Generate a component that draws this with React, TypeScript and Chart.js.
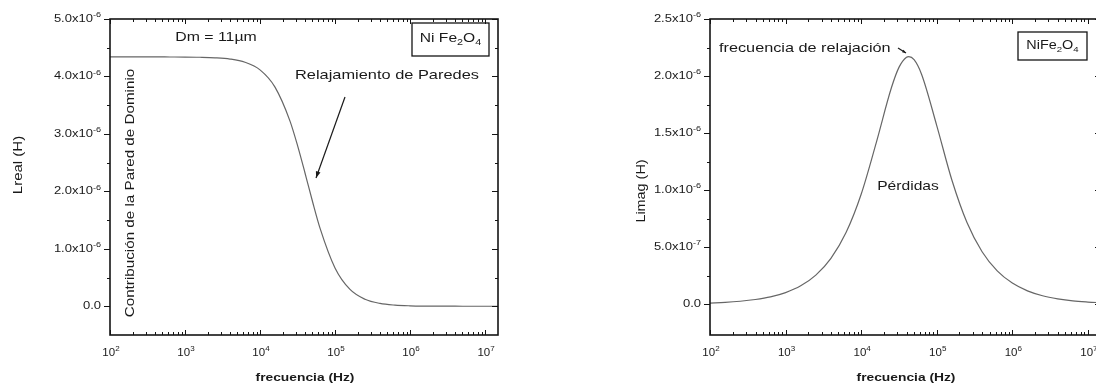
import React, { useEffect, useRef } from 'react';
import { Chart, registerables } from 'chart.js';
Chart.register(...registerables);

// ---- data ----
const frequencyHz = [100, 158.5, 251.2, 398.1, 631, 1000, 1585, 2512, 3981, 6310, 10000, 15850, 25120, 31620, 39810, 42660, 50120, 63100, 100000, 158500, 251200, 398100, 631000, 1000000, 1585000, 2512000, 3981000, 6310000, 10000000, 14900000];
const lRealMicroH = [4.34, 4.34, 4.34, 4.34, 4.339, 4.338, 4.334, 4.325, 4.303, 4.247, 4.114, 3.814, 3.223, 2.801, 2.32, 2.17, 1.824, 1.361, 0.668, 0.293, 0.122, 0.049, 0.02, 0.008, 0.003, 0.001, 0.001, 0.0, 0.0, 0.0];
const lImagMicroH = [0.01, 0.016, 0.026, 0.041, 0.064, 0.102, 0.161, 0.255, 0.402, 0.628, 0.964, 1.417, 1.897, 2.076, 2.165, 2.17, 2.143, 2.014, 1.566, 1.089, 0.716, 0.46, 0.292, 0.185, 0.117, 0.074, 0.047, 0.029, 0.019, 0.013];

const xTickValues = [1e2, 1e3, 1e4, 1e5, 1e6, 1e7];
const xTickLabels = ['10^2', '10^3', '10^4', '10^5', '10^6', '10^7'];
const leftYTickValues = [0, 1e-6, 2e-6, 3e-6, 4e-6, 5e-6];
const leftYTickLabels = ['0.0', '1.0x10^-6', '2.0x10^-6', '3.0x10^-6', '4.0x10^-6', '5.0x10^-6'];
const leftYMinor = [0.5e-6, 1.5e-6, 2.5e-6, 3.5e-6, 4.5e-6];
const rightYTickValues = [0, 5e-7, 1e-6, 1.5e-6, 2e-6, 2.5e-6];
const rightYTickLabels = ['0.0', '5.0x10^-7', '1.0x10^-6', '1.5x10^-6', '2.0x10^-6', '2.5x10^-6'];
const rightYMinor = [2.5e-7, 7.5e-7, 1.25e-6, 1.75e-6, 2.25e-6];

const FONT = '"Liberation Sans", Arial, Helvetica, sans-serif';
const TEXT = '#1a1a1a';
const AXIS = '#141414';
const CURVE = '#666666';

type Seg = { t: string; k: 'n' | 'sup' | 'sub' };
function parseRich(s: string): Seg[] {
  const out: Seg[] = [];
  let buf = '';
  for (let i = 0; i < s.length; i++) {
    const c = s[i];
    if (c === '^') {
      if (buf) out.push({ t: buf, k: 'n' });
      buf = '';
      let j = i + 1;
      let sup = '';
      while (j < s.length && s[j] !== ' ') { sup += s[j]; j++; }
      out.push({ t: sup, k: 'sup' });
      i = j - 1;
    } else if (c === '_') {
      if (buf) out.push({ t: buf, k: 'n' });
      buf = '';
      out.push({ t: s[i + 1], k: 'sub' });
      i++;
    } else buf += c;
  }
  if (buf) out.push({ t: buf, k: 'n' });
  return out;
}

type RichOpts = { size: number; bold?: boolean; stretch?: number; align?: 'left' | 'center' | 'right'; rotate?: boolean };
function drawRich(ctx: CanvasRenderingContext2D, s: string, x: number, y: number, o: RichOpts) {
  const segs = parseRich(s);
  const st = o.stretch ?? 1.25;
  const w = o.bold ? 'bold ' : '';
  const fontFor = (k: string) => `${w}${k === 'n' ? o.size : Math.round(o.size * 0.68)}px ${FONT}`;
  ctx.save();
  ctx.translate(x, y);
  if (o.rotate) ctx.rotate(-Math.PI / 2);
  ctx.scale(st, 1);
  let total = 0;
  const widths = segs.map((sg) => {
    ctx.font = fontFor(sg.k);
    const m = ctx.measureText(sg.t).width;
    total += m;
    return m;
  });
  let cx = o.align === 'left' ? 0 : o.align === 'right' ? -total : -total / 2;
  ctx.fillStyle = TEXT;
  ctx.textBaseline = 'middle';
  ctx.textAlign = 'left';
  segs.forEach((sg, i) => {
    ctx.font = fontFor(sg.k);
    const dy = sg.k === 'sup' ? -o.size * 0.38 : sg.k === 'sub' ? o.size * 0.32 : 0;
    ctx.fillText(sg.t, cx, dy);
    cx += widths[i];
  });
  ctx.restore();
}

function drawArrow(ctx: CanvasRenderingContext2D, x1: number, y1: number, x2: number, y2: number, head: number) {
  ctx.save();
  ctx.strokeStyle = TEXT;
  ctx.fillStyle = TEXT;
  ctx.lineWidth = 1.2;
  ctx.beginPath();
  ctx.moveTo(x1, y1);
  ctx.lineTo(x2, y2);
  ctx.stroke();
  const ang = Math.atan2(y2 - y1, x2 - x1);
  ctx.beginPath();
  ctx.moveTo(x2, y2);
  ctx.lineTo(x2 - head * Math.cos(ang - 0.35), y2 - head * Math.sin(ang - 0.35));
  ctx.lineTo(x2 - head * Math.cos(ang + 0.35), y2 - head * Math.sin(ang + 0.35));
  ctx.closePath();
  ctx.fill();
  ctx.restore();
}

type Ann = { text: string; x: number; y: number } & RichOpts;
type Box = { x: number; y: number; w: number; h: number };
type Arrow = { x1: number; y1: number; x2: number; y2: number; head: number };
type FrameCfg = {
  yTicks: number[];
  yLabels: string[];
  yMinor: number[];
  texts: Ann[];
  boxes: Box[];
  arrows: Arrow[];
};

function makeFramePlugin(cfg: FrameCfg) {
  return {
    id: 'originFrame',
    afterDraw(chart: any) {
      const { ctx, chartArea: a, scales } = chart;
      const xs = scales.x;
      const ys = scales.y;
      ctx.save();
      ctx.strokeStyle = AXIS;
      ctx.lineWidth = 1;
      ctx.beginPath();
      // x ticks (inward on bottom and top)
      for (let d = 2; d <= 7; d++) {
        for (let m = 1; m <= 9; m++) {
          const v = m * Math.pow(10, d);
          if (v > xs.max) break;
          const px = Math.round(xs.getPixelForValue(v)) + 0.5;
          const len = m === 1 ? 5 : 3;
          ctx.moveTo(px, a.bottom);
          ctx.lineTo(px, a.bottom - len);
          ctx.moveTo(px, a.top);
          ctx.lineTo(px, a.top + len);
        }
      }
      // y ticks: left outward, right inward
      cfg.yTicks.forEach((v) => {
        const py = Math.round(ys.getPixelForValue(v)) + 0.5;
        ctx.moveTo(a.left, py);
        ctx.lineTo(a.left - 6, py);
        ctx.moveTo(a.right, py);
        ctx.lineTo(a.right - 6, py);
      });
      cfg.yMinor.forEach((v) => {
        const py = Math.round(ys.getPixelForValue(v)) + 0.5;
        ctx.moveTo(a.left, py);
        ctx.lineTo(a.left - 3, py);
        ctx.moveTo(a.right, py);
        ctx.lineTo(a.right - 3, py);
      });
      ctx.stroke();
      ctx.lineWidth = 1.6;
      ctx.strokeRect(a.left, a.top, a.right - a.left, a.bottom - a.top);
      ctx.restore();

      // tick labels
      xTickValues.forEach((v, i) => {
        const px = xs.getPixelForValue(v);
        drawRich(ctx, xTickLabels[i], px + 1, a.bottom + 18, { size: 10, stretch: 1.15, align: 'center' });
      });
      cfg.yTicks.forEach((v, i) => {
        const py = ys.getPixelForValue(v);
        drawRich(ctx, cfg.yLabels[i], a.left - 9, py, { size: 10, stretch: 1.3, align: 'right' });
      });

      // annotations
      ctx.save();
      ctx.strokeStyle = AXIS;
      ctx.lineWidth = 1.3;
      cfg.boxes.forEach((b) => ctx.strokeRect(b.x, b.y, b.w, b.h));
      ctx.restore();
      cfg.arrows.forEach((ar) => drawArrow(ctx, ar.x1, ar.y1, ar.x2, ar.y2, ar.head));
      cfg.texts.forEach((t) => drawRich(ctx, t.text, t.x, t.y, t));
    },
  };
}

function makeConfig(values: number[], yMin: number, yMax: number, padRight: number, yWidth: number, cfg: FrameCfg): any {
  return {
    type: 'line',
    data: {
      datasets: [
        {
          data: frequencyHz.map((f, i) => ({ x: f, y: values[i] * 1e-6 })),
          borderColor: CURVE,
          borderWidth: 1.2,
          pointRadius: 0,
          cubicInterpolationMode: 'monotone',
          fill: false,
        },
      ],
    },
    options: {
      responsive: false,
      animation: false,
      events: [],
      layout: { padding: { top: 19, right: padRight, left: 0, bottom: 0 } },
      plugins: { legend: { display: false }, tooltip: { enabled: false }, title: { display: false } },
      scales: {
        x: {
          type: 'logarithmic',
          min: 100,
          max: 1.49e7,
          ticks: { display: false },
          grid: { display: false, drawTicks: false },
          border: { display: false },
          afterFit: (s: any) => { s.height = 51; },
        },
        y: {
          type: 'linear',
          min: yMin,
          max: yMax,
          ticks: { display: false },
          grid: { display: false, drawTicks: false },
          border: { display: false },
          afterFit: (s: any) => { s.width = yWidth; },
        },
      },
    },
    plugins: [makeFramePlugin(cfg)],
  };
}

const leftCfg: FrameCfg = {
  yTicks: leftYTickValues,
  yLabels: leftYTickLabels,
  yMinor: leftYMinor,
  boxes: [{ x: 412, y: 23, w: 77, h: 33 }],
  arrows: [{ x1: 345, y1: 97, x2: 316, y2: 178, head: 7 }],
  texts: [
    { text: 'Dm = 11\u00b5m', x: 216, y: 37, size: 13, stretch: 1.22, align: 'center' },
    { text: 'Ni Fe_2O_4', x: 450.5, y: 38.5, size: 13, stretch: 1.2, align: 'center' },
    { text: 'Relajamiento de Paredes', x: 295, y: 75, size: 13, stretch: 1.26, align: 'left' },
    { text: 'Contribución de la Pared de Dominio', x: 130, y: 193, size: 13, stretch: 1.17, align: 'center', rotate: true },
    { text: 'Lreal (H)', x: 19, y: 165, size: 12, stretch: 1.25, align: 'center', rotate: true },
    { text: 'frecuencia (Hz)', x: 305, y: 378, size: 11.5, bold: true, stretch: 1.2, align: 'center' },
  ],
};

const rightCfg: FrameCfg = {
  yTicks: rightYTickValues,
  yLabels: rightYTickLabels,
  yMinor: rightYMinor,
  boxes: [{ x: 470, y: 32, w: 69, h: 28 }],
  arrows: [{ x1: 350, y1: 48, x2: 358, y2: 53, head: 4 }],
  texts: [
    { text: 'frecuencia de relajación', x: 171, y: 48, size: 13, stretch: 1.25, align: 'left' },
    { text: 'NiFe_2O_4', x: 504.5, y: 45.5, size: 12, stretch: 1.2, align: 'center' },
    { text: 'Pérdidas', x: 360, y: 186, size: 13, stretch: 1.2, align: 'center' },
    { text: 'Limag (H)', x: 94, y: 191, size: 12, stretch: 1.2, align: 'center', rotate: true },
    { text: 'frecuencia (Hz)', x: 358, y: 378, size: 11.5, bold: true, stretch: 1.2, align: 'center' },
  ],
};

export default function App() {
  const leftRef = useRef<HTMLCanvasElement>(null);
  const rightRef = useRef<HTMLCanvasElement>(null);
  useEffect(() => {
    const c1 = new Chart(leftRef.current!, makeConfig(lRealMicroH, -0.5e-6, 5e-6, 50, 110, leftCfg));
    const c2 = new Chart(rightRef.current!, makeConfig(lImagMicroH, -0.27e-6, 2.5e-6, 7, 162, rightCfg));
    return () => {
      c1.destroy();
      c2.destroy();
    };
  }, []);
  return (
    <div style={{ position: 'absolute', left: 0, top: 0, width: 1096, height: 386, overflow: 'hidden', background: '#ffffff' }}>
      <div style={{ position: 'absolute', left: 0, top: 0, width: 548, height: 386 }}>
        <canvas ref={leftRef} width={548} height={386} style={{ width: 548, height: 386, display: 'block' }} />
      </div>
      <div style={{ position: 'absolute', left: 548, top: 0, width: 560, height: 386 }}>
        <canvas ref={rightRef} width={560} height={386} style={{ width: 560, height: 386, display: 'block' }} />
      </div>
    </div>
  );
}
